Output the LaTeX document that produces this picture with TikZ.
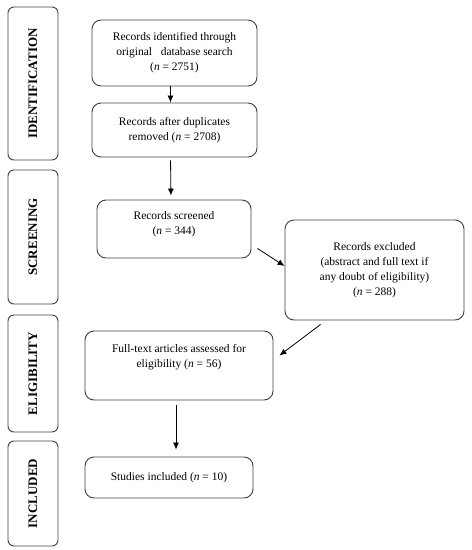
\documentclass[tikz,border=0pt]{standalone}
\usepackage{fontspec}
\setmainfont{Liberation Serif}
\usetikzlibrary{arrows.meta,calc,positioning}
\definecolor{boxline}{HTML}{404040}

\begin{document}
\begin{tikzpicture}[
    x=1pt, y=-1pt,
    font=\fontsize{11.5}{15}\selectfont,
    stage/.style={draw=boxline, line width=0.9pt, rounded corners=6pt, rotate=90,
      minimum height=50pt, inner sep=0pt, font=\fontsize{13}{15}\selectfont\bfseries},
    record/.style={draw=boxline, line width=0.9pt, rounded corners=9pt, align=center,
      inner sep=0pt},
    arrow/.style={-{Latex[length=7pt,width=6pt]}, line width=0.8pt, draw=black}
  ]
    \useasboundingbox (0,0) rectangle (472,550);

    % phase labels on the left
    \node[stage, minimum width=153pt] (identification) at (33,83.5) {IDENTIFICATION};
    \node[stage, minimum width=134pt] (screening) at (33,237) {SCREENING};
    \node[stage, minimum width=117pt] (eligibility) at (33,373.5) {ELIGIBILITY};
    \node[stage, minimum width=105pt] (included) at (33,493.5) {INCLUDED};

    % records
    \node[record, minimum width=165pt, minimum height=66pt] (identified) at (174.5,53)
      {Records identified through\\original\ \ \ database search\\(\textit{n} = 2751)};
    \node[record, minimum width=165pt, minimum height=54pt] (duplicates) at (174.5,130)
      {Records after duplicates\\removed (\textit{n} = 2708)};
    \node[record, minimum width=154pt, minimum height=58pt, text depth=11pt] (screened) at (174,229)
      {Records screened\\(\textit{n} = 344)};
    \node[record, minimum width=179pt, minimum height=100pt] (excluded) at (374.5,270)
      {Records excluded\\(abstract and full text if\\any doubt of eligibility)\\(\textit{n} = 288)};
    \node[record, minimum width=188pt, minimum height=69pt, text depth=19pt] (fulltext) at (179,365.5)
      {Full-text articles assessed for\\eligibility (\textit{n} = 56)};
    \node[record, minimum width=168pt, minimum height=41pt] (studies) at (169,477.5)
      {Studies included (\textit{n} = 10)};

    \draw[arrow] ([xshift=-4pt]identified.south) -- ([xshift=-4pt]duplicates.north);
    \draw[arrow, shorten <=3pt, shorten >=4pt] ([xshift=-4pt]duplicates.south) -- ([xshift=-3pt]screened.north);
    \draw[arrow] ([xshift=6pt,yshift=10pt]screened.south east) -- ([yshift=4pt]excluded.west);
    \draw[arrow] ([xshift=36pt,yshift=-4pt]excluded.south west) -- ([xshift=6pt,yshift=10pt]fulltext.east);
    \draw[arrow, shorten <=5pt, shorten >=7pt] ([xshift=-3pt]fulltext.south) -- ([xshift=7pt]studies.north);
  \end{tikzpicture}
\end{document}
